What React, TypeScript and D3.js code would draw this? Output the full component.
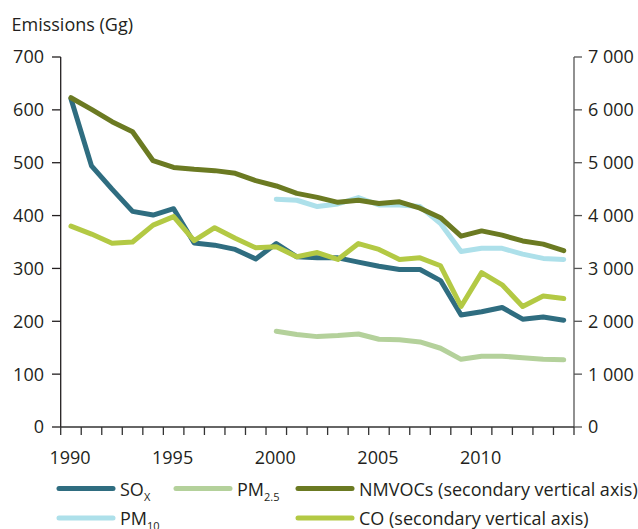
import React from "react";
import * as d3 from "d3";

const years = d3.range(1990, 2015);
const xTickYears = [1990, 1995, 2000, 2005, 2010];
const leftTicks = [0, 100, 200, 300, 400, 500, 600, 700];
const rightTicks = [0, 1000, 2000, 3000, 4000, 5000, 6000, 7000];

// Left axis (Gg)
const sox = [621, 494, 450, 408, 401, 413, 348, 344, 336, 318, 347, 322, 320, 320, 312, 304, 298, 298, 277, 212, 218, 226, 204, 208, 202];
const pm25 = [null, null, null, null, null, null, null, null, null, null, 181, 175, 171, 173, 176, 166, 165, 161, 149, 128, 134, 134, 131, 128, 127];
const pm10 = [null, null, null, null, null, null, null, null, null, null, 431, 429, 417, 422, 434, 420, 420, 417, 385, 332, 338, 338, 327, 319, 317];
// Right (secondary) axis (Gg)
const nmvoc = [6230, 6010, 5776, 5587, 5038, 4910, 4875, 4850, 4800, 4660, 4560, 4420, 4345, 4250, 4290, 4230, 4260, 4140, 3960, 3610, 3710, 3630, 3520, 3460, 3335];
const co = [3800, 3650, 3475, 3500, 3820, 3980, 3525, 3770, 3570, 3390, 3410, 3220, 3300, 3170, 3470, 3360, 3170, 3200, 3050, 2280, 2920, 2690, 2280, 2480, 2430];

const FONT = "'Open Sans', 'Noto Sans', sans-serif";
const colors = {
  sox: "#2f6d80",
  pm25: "#b4d19b",
  pm10: "#ade0ea",
  nmvoc: "#6b7a22",
  co: "#b3c944",
};

export default function App() {
  const W = 638, H = 529;
  const x = d3.scaleBand<number>().domain(years).range([60.7, 574]);
  const yL = d3.scaleLinear().domain([0, 700]).range([427, 57]);
  const yR = d3.scaleLinear().domain([0, 7000]).range([427, 57]);
  const cx = (yr: number) => (x(yr) as number) + x.bandwidth() / 2;

  const mk = (vals: (number | null)[], y: d3.ScaleLinear<number, number>) =>
    d3.line<number | null>()
      .defined((d) => d != null)
      .x((_, i) => cx(years[i]))
      .y((d) => y(d as number))(vals) as string;

  const series = [
    { key: "pm25", d: mk(pm25, yL), c: colors.pm25 },
    { key: "sox", d: mk(sox, yL), c: colors.sox },
    { key: "pm10", d: mk(pm10, yL), c: colors.pm10 },
    { key: "nmvoc", d: mk(nmvoc, yR), c: colors.nmvoc },
    { key: "co", d: mk(co, yR), c: colors.co },
  ];

  const bounds = [...years.map((yr) => x(yr) as number), 574];
  const fmt = (v: number) => d3.format(",")(v).replace(/,/g, " ");

  const legend = [
    { label: "SO", sub: "X", c: colors.sox, lx: 59, ly: 488.5 },
    { label: "PM", sub: "2.5", c: colors.pm25, lx: 176, ly: 488.5 },
    { label: "NMVOCs (secondary vertical axis)", sub: "", c: colors.nmvoc, lx: 298, ly: 488.5 },
    { label: "PM", sub: "10", c: colors.pm10, lx: 59, ly: 518 },
    { label: "CO (secondary vertical axis)", sub: "", c: colors.co, lx: 298, ly: 518 },
  ];

  return (
    <div style={{ position: "absolute", left: 0, top: 0 }}>
      <svg width={W} height={H} style={{ display: "block", fontFamily: FONT }}>
        <rect width={W} height={H} fill="#fff" />
        <text x={11.5} y={30.5} fontSize={18} fill="#231f20">Emissions (Gg)</text>

        {/* left axis */}
        <line x1={60.7} x2={60.7} y1={57} y2={427} stroke="#231f20" strokeWidth={1.3} />
        {leftTicks.map((t) => (
          <g key={"l" + t}>
            <line x1={52} x2={60.7} y1={yL(t)} y2={yL(t)} stroke="#231f20" strokeWidth={1.3} />
            <text x={44} y={yL(t)} dy="0.36em" textAnchor="end" fontSize={18} fill="#231f20">{t}</text>
          </g>
        ))}
        {/* right axis */}
        <line x1={574} x2={574} y1={57} y2={427} stroke="#555" strokeWidth={1.3} />
        {rightTicks.map((t) => (
          <g key={"r" + t}>
            <line x1={574} x2={582} y1={yR(t)} y2={yR(t)} stroke="#555" strokeWidth={1.3} />
            <text x={588} y={yR(t)} dy="0.36em" textAnchor="start" fontSize={18} fill="#231f20">{fmt(t)}</text>
          </g>
        ))}
        {/* x axis */}
        <line x1={60.7} x2={574} y1={427} y2={427} stroke="#333" strokeWidth={1.3} />
        {bounds.map((b, i) => (
          <line key={"xt" + i} x1={b} x2={b} y1={427} y2={435} stroke="#333" strokeWidth={1.3} />
        ))}
        {xTickYears.map((yr) => (
          <text key={"xl" + yr} x={cx(yr) - 1} y={464} textAnchor="middle" fontSize={18} fill="#231f20">{yr}</text>
        ))}

        {series.map((s) => (
          <path key={s.key} d={s.d} fill="none" stroke={s.c} strokeWidth={5} strokeLinejoin="round" strokeLinecap="round" />
        ))}

        {legend.map((l, i) => (
          <g key={"lg" + i}>
            <line x1={l.lx} x2={l.lx + 54} y1={l.ly} y2={l.ly} stroke={l.c} strokeWidth={5} strokeLinecap="round" />
            <text x={l.lx + 61} y={l.ly + 7} fontSize={18} fill="#231f20">
              {l.label}
              {l.sub ? <tspan fontSize={11} dy={5}>{l.sub}</tspan> : null}
            </text>
          </g>
        ))}
      </svg>
    </div>
  );
}
